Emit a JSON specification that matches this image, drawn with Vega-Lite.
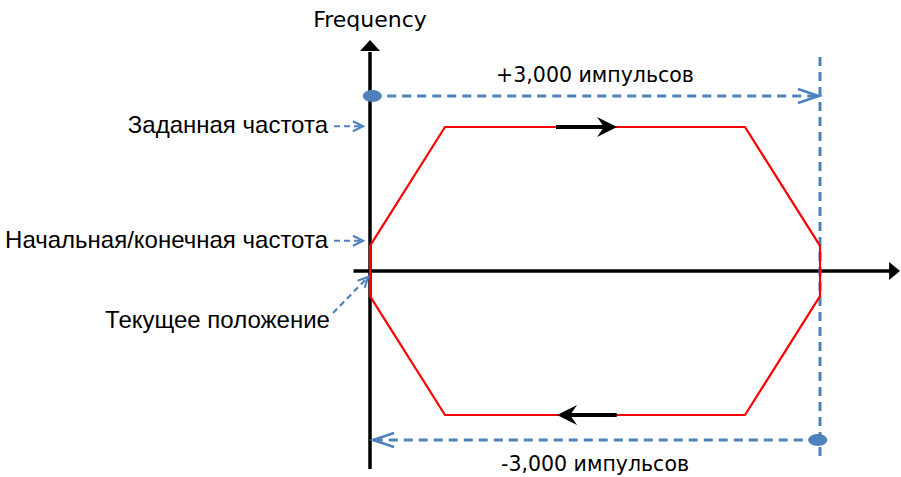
{
  "$schema": "https://vega.github.io/schema/vega-lite/v6.json",
  "width": 901,
  "height": 477,
  "padding": 0,
  "autosize": {"type": "fit", "contains": "padding"},
  "config": {"view": {"stroke": null}, "text": {"font": "Liberation Sans"}},
  "encoding": {
    "x": {"field": "x", "type": "quantitative", "axis": null, "scale": {"domain": [-2466.67, 3540], "nice": false, "zero": false}},
    "y": {"field": "y", "type": "quantitative", "axis": null, "scale": {"domain": [-143.06, 188.19], "nice": false, "zero": false}}
  },
  "layer": [
    {
      "data": {"values": [
        {"x": 0, "y": -137.5, "x2": 0, "y2": 152},
        {"x": -110, "y": 0, "x2": 3470, "y2": 0}
      ]},
      "mark": {"type": "rule", "color": "black", "strokeWidth": 3.5, "strokeCap": "butt"},
      "encoding": {"x2": {"field": "x2"}, "y2": {"field": "y2"}}
    },
    {
      "data": {"values": [{"x": 0, "y": 160.4}]},
      "mark": {"type": "point", "shape": "M0,0L1,1.1L-1,1.1Z", "size": 400, "filled": true, "color": "black", "opacity": 1}
    },
    {
      "data": {"values": [{"x": 3533, "y": 0}]},
      "mark": {"type": "point", "shape": "M0,0L-1.2,-1L-1.2,1Z", "size": 324, "filled": true, "color": "black", "opacity": 1}
    },
    {
      "data": {"values": [
        {"x": 3000, "y": 148.6, "x2": 3000, "y2": -131},
        {"x": 15, "y": 121.5, "x2": 2985, "y2": 121.5},
        {"x": 2985, "y": -117.4, "x2": 25, "y2": -117.4}
      ]},
      "mark": {"type": "rule", "color": "#4F81BD", "strokeWidth": 3, "strokeDash": [9, 6], "strokeCap": "butt"},
      "encoding": {"x2": {"field": "x2"}, "y2": {"field": "y2"}}
    },
    {
      "data": {"values": [
        {"step": 1, "x": 0, "y": 17.5},
        {"step": 2, "x": 500, "y": 100},
        {"step": 3, "x": 2500, "y": 100},
        {"step": 4, "x": 3000, "y": 17.5},
        {"step": 5, "x": 3000, "y": -17.5},
        {"step": 6, "x": 2500, "y": -100},
        {"step": 7, "x": 500, "y": -100},
        {"step": 8, "x": 0, "y": -17.5},
        {"step": 9, "x": 0, "y": 17.5}
      ]},
      "mark": {"type": "line", "color": "#FF0000", "strokeWidth": 2.2, "strokeJoin": "miter"},
      "encoding": {"order": {"field": "step", "type": "quantitative"}}
    },
    {
      "data": {"values": [
        {"x": 1240, "y": 100, "x2": 1580, "y2": 100},
        {"x": 1645, "y": -100, "x2": 1320, "y2": -100}
      ]},
      "mark": {"type": "rule", "color": "black", "strokeWidth": 4, "strokeCap": "butt"},
      "encoding": {"x2": {"field": "x2"}, "y2": {"field": "y2"}}
    },
    {
      "data": {"values": [{"x": 1647, "y": 100}]},
      "mark": {"type": "point", "shape": "M0,0L-2,-1L-1.3,0L-2,1Z", "size": 400, "filled": true, "color": "black", "opacity": 1}
    },
    {
      "data": {"values": [{"x": 1247, "y": -100}]},
      "mark": {"type": "point", "shape": "M0,0L2,-1L1.3,0L2,1Z", "size": 400, "filled": true, "color": "black", "opacity": 1}
    },
    {
      "data": {"values": [{"x": 15, "y": 121.5}, {"x": 2985, "y": -117.4}]},
      "mark": {"type": "point", "shape": "M-1,0C-1,-0.35,-0.55,-0.63,0,-0.63C0.55,-0.63,1,-0.35,1,0C1,0.35,0.55,0.63,0,0.63C-0.55,0.63,-1,0.35,-1,0Z", "size": 361, "filled": true, "color": "#4F81BD", "opacity": 1}
    },
    {
      "data": {"values": [{"x": 2993, "y": 121.5}]},
      "mark": {"type": "point", "shape": "M-3,-1L0,0L-3,1", "size": 196, "filled": false, "color": "#4F81BD", "strokeWidth": 2.5, "opacity": 1}
    },
    {
      "data": {"values": [{"x": 20, "y": -117.4}]},
      "mark": {"type": "point", "shape": "M3,-1L0,0L3,1", "size": 196, "filled": false, "color": "#4F81BD", "strokeWidth": 2.5, "opacity": 1}
    },
    {
      "data": {"values": [
        {"x": -240, "y": 100.5, "x2": -55, "y2": 100.5},
        {"x": -240, "y": 21, "x2": -55, "y2": 21},
        {"x": -247, "y": -29.2, "x2": -22, "y2": -5.2}
      ]},
      "mark": {"type": "rule", "color": "#4F81BD", "strokeWidth": 2.2, "strokeDash": [6, 4], "strokeCap": "butt"},
      "encoding": {"x2": {"field": "x2"}, "y2": {"field": "y2"}}
    },
    {
      "data": {"values": [{"x": -47, "y": 100.5}, {"x": -47, "y": 21}]},
      "mark": {"type": "point", "shape": "M-2,-1L0,0L-2,1", "size": 100, "filled": false, "color": "#4F81BD", "strokeWidth": 2.2, "opacity": 1}
    },
    {
      "data": {"values": [{"x": -13, "y": -4.2}]},
      "mark": {"type": "point", "shape": "M-2,-1L0,0L-2,1", "size": 100, "filled": false, "color": "#4F81BD", "strokeWidth": 2.2, "opacity": 1, "angle": -46}
    },
    {
      "data": {"values": [{"x": 0, "y": 174.3, "label": "Frequency"}]},
      "mark": {"type": "text", "align": "center", "baseline": "middle", "fontSize": 22, "font": "DejaVu Sans", "color": "black"},
      "encoding": {"text": {"field": "label"}}
    },
    {
      "data": {"values": [
        {"x": 1500, "y": 135.4, "label": "+3,000 импульсов"},
        {"x": 1500, "y": -134.7, "label": "-3,000 импульсов"}
      ]},
      "mark": {"type": "text", "align": "center", "baseline": "middle", "fontSize": 20.5, "font": "DejaVu Sans", "color": "black"},
      "encoding": {"text": {"field": "label"}}
    },
    {
      "data": {"values": [
        {"x": -280, "y": 100.5, "label": "Заданная частота"},
        {"x": -280, "y": 21, "label": "Начальная/конечная частота"},
        {"x": -267, "y": -34.7, "label": "Текущее положение"}
      ]},
      "mark": {"type": "text", "align": "right", "baseline": "middle", "fontSize": 24, "color": "black"},
      "encoding": {"text": {"field": "label"}}
    }
  ]
}
